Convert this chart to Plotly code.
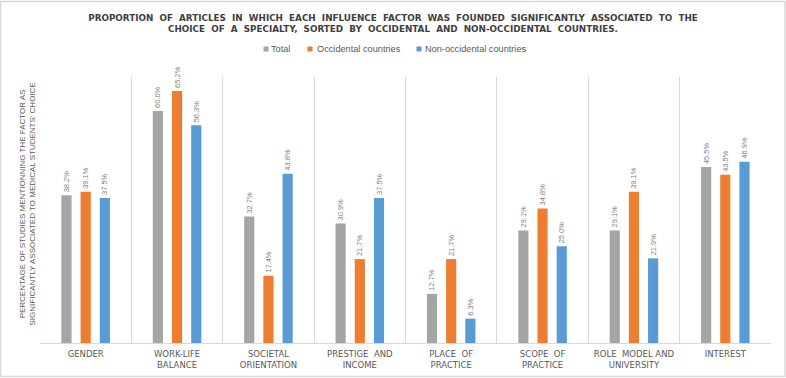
import plotly.graph_objects as go

categories = ["GENDER", "WORK-LIFE<br>BALANCE", "SOCIETAL<br>ORIENTATION", "PRESTIGE  AND<br>INCOME",
              "PLACE  OF<br>PRACTICE", "SCOPE  OF<br>PRACTICE", "ROLE  MODEL AND<br>UNIVERSITY", "INTEREST"]
total = [38.2, 60.0, 32.7, 30.9, 12.7, 29.1, 29.1, 45.5]
occidental = [39.1, 65.2, 17.4, 21.7, 21.7, 34.8, 39.1, 43.5]
non_occidental = [37.5, 56.3, 43.8, 37.5, 6.3, 25.0, 21.9, 46.9]
series_names = ["Total", "Occidental countries", "Non-occidental countries"]
series_colors = ["#A5A5A5", "#ED7D31", "#5B9BD5"]

W, H = 786, 378
ml, mr, mt, mb = 40, 15, 77, 35
pw, ph = W - ml - mr, H - mt - mb

def px_x(x):
    return (x - ml) / pw

def px_y(y):
    return (H - mb - y) / ph

fig = go.Figure()
for name, vals, col in zip(series_names, [total, occidental, non_occidental], series_colors):
    fig.add_trace(go.Bar(
        x=categories, y=vals, name=name, marker=dict(color=col, line=dict(width=0)),
        text=[f"{v:.1f}%" for v in vals], textposition="outside", textangle=-90, constraintext="none",
        textfont=dict(size=7.5, color="#7F7F7F", family="Liberation Sans"), cliponaxis=False,
        showlegend=False, hoverinfo="skip",
    ))

fig.update_layout(
    width=W, height=H, margin=dict(l=ml, r=mr, t=mt, b=mb, autoexpand=False),
    paper_bgcolor="white", plot_bgcolor="white",
    barmode="group", bargap=0.37, bargroupgap=0.47,
    title=dict(text="PROPORTION  OF  ARTICLES  IN  WHICH  EACH  INFLUENCE  FACTOR  WAS  FOUNDED  SIGNIFICANTLY  ASSOCIATED  TO  THE<br>CHOICE  OF  A  SPECIALTY,  SORTED  BY  OCCIDENTAL  AND  NON-OCCIDENTAL  COUNTRIES.",
               x=0.5, xref="container", xanchor="center", y=1 - 21 / H, yref="container", yanchor="top",
               font=dict(size=8.8, color="#404040", family="DejaVu Sans", weight="bold")),
    showlegend=False,
)
fig.update_xaxes(tickson="boundaries", showgrid=True, gridcolor="#D9D9D9", gridwidth=1,
                 showline=True, linecolor="#D9D9D9", linewidth=1, ticks="", automargin=False,
                 ticklabelstandoff=3,
                 tickfont=dict(size=8.5, color="#595959", family="DejaVu Sans"), tickangle=0)
fig.update_yaxes(range=[0, 68.8], showgrid=False, showticklabels=False, zeroline=False, showline=False,
                 automargin=False)

# compact legend, like the reference
legend_marker_x = [266, 310, 419]
legend_text_x = [269, 315, 423]
for name, col, mx, tx in zip(series_names, series_colors, legend_marker_x, legend_text_x):
    fig.add_shape(type="rect", xref="paper", yref="paper",
                  x0=px_x(mx - 2.5), x1=px_x(mx + 2.5), y0=px_y(51.5), y1=px_y(46.5),
                  fillcolor=col, line=dict(width=0))
    fig.add_annotation(text=name, xref="paper", yref="paper", x=px_x(tx), y=px_y(49),
                       xanchor="left", yanchor="middle", showarrow=False,
                       font=dict(size=9.2, color="#595959", family="Liberation Sans Narrow, Liberation Sans"))

fig.add_annotation(text="PERCENTAGE OF STUDIES MENTIONNING THE FACTOR AS<br>SIGNIFICANTLY ASSOCIATED TO MEDICAL STUDENTS' CHOICE",
                   xref="paper", yref="paper", x=px_x(26.5), y=px_y(204), xanchor="center", yanchor="middle",
                   textangle=-90, showarrow=False,
                   font=dict(size=8, color="#595959", family="Liberation Sans"))

fig.add_shape(type="rect", xref="paper", yref="paper",
              x0=px_x(0.5), x1=px_x(W - 1), y0=px_y(H - 1.5), y1=px_y(1.5),
              line=dict(color="#D9D9D9", width=1.5), fillcolor="rgba(0,0,0,0)", layer="below")

fig.write_html("out.html", config={"displayModeBar": False},
               post_script="document.body.style.margin='0';")
